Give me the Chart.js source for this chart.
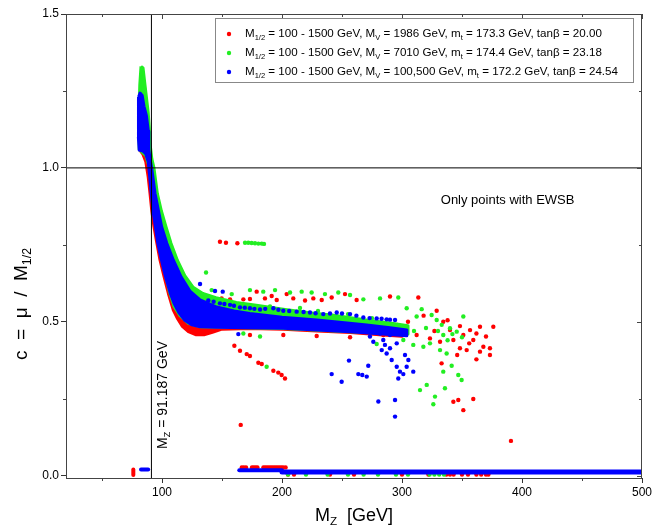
<!DOCTYPE html>
<html>
<head>
<meta charset="utf-8">
<script src="https://cdn.jsdelivr.net/npm/chart.js@4/dist/chart.umd.min.js"></script>
<style>
html, body { margin: 0; padding: 0; background: #fff; }
</style>
</head>
<body>
<canvas id="myChart" width="655" height="529"></canvas>
<script>
const RED = '#ff0000', GREEN = '#22ee22', BLUE = '#0000ff';

// axis ticks
const xTicks = [100, 200, 300, 400, 500];
const xMinor = [50, 150, 250, 350, 450];
const yTicks = [0, 0.5, 1.0, 1.5];
const yMinor = [0.25, 0.75, 1.25];

// outlines of the dense point clouds (upper edge, then lower edge back)
const redBand = [[81,1.06],[81.5,1.22],[83.5,1.31],[85,1.28],[87,1.2],[89,1.1],[91,1.0],[93.5,0.917],[98.5,0.809],[107,0.701],[120,0.6],[131,0.565],[145,0.54],[173,0.522],[229,0.5],[271,0.485],[300,0.47],
  [300,0.453],[284,0.457],[257,0.465],[229,0.47],[201,0.476],[173,0.478],[150,0.476],[142,0.466],[135,0.458],[128,0.458],[122,0.468],[117,0.485],[113,0.51],[109.4,0.538],[105.3,0.592],[101.5,0.65],[98.3,0.701],[95.5,0.76],[93.3,0.809],[91.5,0.86],[90,0.917],[88.5,0.97],[86.5,1.02],[84,1.045]];
const greenBand = [[82.5,1.33],[84.2,1.325],[85.5,1.28],[87,1.23],[88.5,1.18],[89.4,1.13],[90,1.08],[91.5,1.03],[93.3,1.0],[96.1,0.917],[99.5,0.86],[103.3,0.809],[107.5,0.755],[112.8,0.70],[119,0.65],[126,0.612],[134,0.592],[145,0.578],[162,0.563],[180,0.553],[201,0.541],[225,0.529],[243,0.521],[270,0.506],[290,0.496],[305,0.487],
  [305,0.46],[257,0.468],[201,0.478],[150,0.482],[132,0.484],[122,0.495],[115,0.52],[110,0.55],[106,0.6],[100,0.7],[95,0.81],[91.5,0.917],[89.5,1.0],[86.5,1.04],[81,1.06],[80.5,1.15],[81.5,1.27]];
const blueBand = [[80.5,1.23],[81.7,1.243],[83.5,1.235],[85,1.2],[87,1.17],[88.6,1.12],[89,1.06],[90,1.03],[91.4,1.0],[94.2,0.917],[99.7,0.809],[104,0.755],[109.4,0.701],[116,0.645],[123.3,0.6],[131.7,0.571],[145.6,0.548],[160,0.535],[173.3,0.527],[200,0.515],[228.9,0.506],[250,0.498],[270.6,0.49],[290,0.481],[304,0.473],
  [304,0.455],[284,0.46],[256.7,0.468],[229,0.473],[201,0.479],[170,0.481],[145,0.482],[131.7,0.484],[125,0.49],[119,0.505],[114,0.53],[110,0.56],[107,0.592],[103,0.645],[99.5,0.701],[96.5,0.755],[94.5,0.809],[92.5,0.86],[91,0.917],[89.8,0.97],[88.5,1.02],[86.5,1.045],[84,1.055],[81,1.058],[80.3,1.1],[80.3,1.18]];

// scattered points
const redPts = [[148.3,0.760],[153.3,0.757],[162.8,0.755],
  [149.7,0.576],[156.7,0.573],[167.8,0.573],[173.3,0.574],[178.9,0.598],[185.8,0.576],[191.4,0.584],[195.6,0.571],[203.9,0.590],[209.4,0.576],[219.2,0.569],[226.1,0.576],[233.1,0.571],[241.4,0.579],[252.5,0.590],[262.2,0.571],[290,0.582],[313.6,0.579],
  [328.9,0.536],[334.4,0.500],[348.3,0.486],[365,0.484],[376.1,0.484],[356.7,0.473],[340,0.473],[351.1,0.457],[359.4,0.441],[367.8,0.419],[373.3,0.414],[365,0.403],[373.3,0.392],[353.9,0.408],[348.3,0.414],[342.8,0.441],[331.7,0.435],[323.3,0.446],[312.2,0.457],[301.1,0.462],[284.4,0.457],[256.7,0.450],[228.9,0.454],[201.1,0.457],[173.3,0.457],
  [318,0.52],[338,0.505],[362,0.462],[370,0.452],[356,0.43],[346,0.392],[362,0.378],[327,0.47],[305,0.5],[296,0.49],
  [160.3,0.422],[165,0.406],[170.6,0.395],[173.3,0.389],[180.3,0.367],[183.1,0.363],[192.8,0.341],[196.9,0.335],[199.7,0.327],[202.5,0.316],
  [342.8,0.240],[346.9,0.246],[359.4,0.249],[351.1,0.213],[333,0.365],
  [165.6,0.165],[390.8,0.113]];
const greenPts = [[169.2,0.757],[171.9,0.757],[174.7,0.756],[177.5,0.755],[180.3,0.754],[183.1,0.754],[185,0.753],
  [136.7,0.660],[141.4,0.603],[158.1,0.590],[173.3,0.603],[184.4,0.598],[194.2,0.603],[206.7,0.595],[216.4,0.598],[224.7,0.595],[235.8,0.590],[246.9,0.595],[256.7,0.587],[267.8,0.573],[281.7,0.576],[296.9,0.579],
  [303.9,0.544],[316.4,0.541],[312.2,0.517],[324.7,0.522],[328.9,0.506],[333.1,0.49],[340,0.479],[351.1,0.517],[345.6,0.468],[334.4,0.457],[323.3,0.430],[331.7,0.408],[337.2,0.397],[341.4,0.357],[334.4,0.338],[346.9,0.327],[349.7,0.311],
  [320.6,0.295],[315,0.278],[327.5,0.257],[326.1,0.232],[335.8,0.284],[187.2,0.354],[278.9,0.428],[301.1,0.441],[309.4,0.425],[317.8,0.419],[284.4,0.49],[265,0.506],[245.6,0.517],[181.7,0.452],[167.8,0.462],
  [150,0.57],[160,0.56],[190,0.55],[215,0.545],[230,0.535],[255,0.525],[275,0.512],[320,0.48],[330,0.47],[342,0.46],[338,0.44],[350,0.45],[310,0.47]];
const bluePts = [[131.7,0.623],[144.2,0.600],[150.6,0.598],
  [138.6,0.569],[143,0.565],[148.3,0.560],[152,0.558],[156.7,0.555],[160,0.552],[165,0.547],[169,0.546],[173.3,0.544],[177,0.542],[181.7,0.540],[186,0.542],[192.8,0.544],[197,0.539],[201.1,0.536],[206,0.535],[212.2,0.533],[218,0.532],[223.3,0.530],[228,0.528],[234.4,0.525],[240,0.527],[245.6,0.530],[250,0.527],[256.7,0.525],[262,0.52],[267.8,0.514],[273,0.512],[278.9,0.511],[283,0.51],[287.2,0.508],[290,0.507],[294.2,0.506],
  [281.7,0.462],[284.4,0.441],[285.8,0.425],[283.1,0.408],[287.2,0.397],[290,0.414],[295.6,0.430],[291.4,0.376],[295.6,0.354],[298.3,0.338],[302.5,0.392],[305.3,0.376],[309.4,0.338],[303.9,0.354],[301.1,0.330],[296.9,0.316],[273.3,0.452],[276.1,0.435],[290,0.457],
  [241.4,0.330],[249.7,0.305],[263.6,0.330],[266.9,0.327],[270.6,0.322],[255.8,0.374],[271.9,0.357],[280.3,0.241],[294.2,0.246],[294.2,0.192],[163.6,0.460]];

// points lying on c ~ 0
const redFloor = [[166.5,0.027],[168.2,0.027],[170,0.027],[175,0.027],[176.5,0.027],[178,0.027],[179.5,0.027],[184.5,0.027],[186,0.027],[187.5,0.027],[189,0.027],[190.5,0.027],[192,0.027],[193.5,0.027],[195,0.027],[196.5,0.027],[198,0.027],[199.5,0.027],[201,0.027],[203,0.027]];
const redUnder = [[205,0.004],[210,0.004],[240,0.004],[260,0.004],[300,0.004],[322,0.004],[337,0.004],[340,0.004],[343,0.004],[350,0.004],[355,0.004],[362,0.004],[366,0.004],[370,0.004],[372,0.004]];
const greenUnder = [[205,0.004],[220,0.004],[238,0.004],[255,0.004],[268,0.004],[280,0.004],[295,0.004],[305,0.004],[323,0.004],[327,0.004],[331,0.004],[335,0.004]];
const blueFloorA = [[164.4,0.018],[200,0.018]];
const blueFloorB = [[200,0.012],[500,0.012]];
const blueLeft = [[82.5,0.02],[88.5,0.02]];
const redLeft = [[76.1,0.002],[76.1,0.02]];

// reference lines
const mzLine = [[91.187,-0.0075],[91.187,1.5]];
const oneLine = [[20,1],[500,1]];

const legendRows = [
  {color: RED, parts: [['M'],['1/2',1],[' = 100 - 1500 GeV, M'],['V',1],[' = 1986 GeV, m'],['t',1],[' = 173.3 GeV, tan\u03b2 = 20.00']]},
  {color: GREEN, parts: [['M'],['1/2',1],[' = 100 - 1500 GeV, M'],['V',1],[' = 7010 GeV, m'],['t',1],[' = 174.4 GeV, tan\u03b2 = 23.18']]},
  {color: BLUE, parts: [['M'],['1/2',1],[' = 100 - 1500 GeV, M'],['V',1],[' = 100,500 GeV, m'],['t',1],[' = 172.2 GeV, tan\u03b2 = 24.54']]}
];

const FONT = '"Liberation Sans", Arial, sans-serif';
const xy = arr => arr.map(p => ({x: p[0], y: p[1]}));
const closed = arr => xy(arr.concat([arr[0]]));

function band(data, color) {
  return {data: closed(data), showLine: true, fill: 'shape', backgroundColor: color, borderColor: color,
    borderWidth: 3, borderJoinStyle: 'round', pointRadius: 0, tension: 0};
}
function dots(data, color) {
  return {data: xy(data), backgroundColor: color, borderWidth: 0, pointRadius: 2.2, showLine: false};
}
function bar(data, color, w) {
  return {data: xy(data), showLine: true, borderColor: color, borderWidth: w, borderCapStyle: 'round', pointRadius: 0, fill: false};
}
function rule(data) {
  return {data: xy(data), showLine: true, borderColor: '#000', borderWidth: 1, pointRadius: 0, fill: false};
}

// bottom to top, reversed so that the last one is drawn on top
const layers = [
  band(redBand, RED), dots(redPts, RED), dots(redFloor, RED), dots(redUnder, RED), bar(redLeft, RED, 4),
  band(greenBand, GREEN), dots(greenPts, GREEN), dots(greenUnder, GREEN),
  band(blueBand, BLUE), dots(bluePts, BLUE), bar(blueFloorA, BLUE, 4), bar(blueFloorB, BLUE, 5), bar(blueLeft, BLUE, 4),
  rule(mzLine), rule(oneLine)
].reverse();

function richWidth(ctx, parts, size) {
  let w = 0;
  for (const p of parts) {
    ctx.font = (p[1] ? size * 0.65 : size) + 'px ' + FONT;
    w += ctx.measureText(p[0]).width;
  }
  return w;
}
function drawRich(ctx, parts, x, y, size) {
  ctx.textBaseline = 'middle';
  ctx.textAlign = 'left';
  for (const p of parts) {
    ctx.font = (p[1] ? size * 0.65 : size) + 'px ' + FONT;
    ctx.fillText(p[0], x, p[1] ? y + size * 0.32 : y);
    x += ctx.measureText(p[0]).width;
  }
}

const decor = {
  id: 'decor',
  afterDraw(chart) {
    const {ctx, chartArea: a} = chart;
    const sx = chart.scales.x, sy = chart.scales.y;
    ctx.save();
    ctx.strokeStyle = '#444';
    ctx.lineWidth = 1;
    ctx.strokeRect(a.left + 0.5, a.top + 0.5, a.right - a.left - 1, a.bottom - a.top);
    ctx.beginPath();
    // top (inward) and bottom minor ticks
    xTicks.forEach(v => { const p = Math.round(sx.getPixelForValue(v)) + 0.5; ctx.moveTo(p, a.top); ctx.lineTo(p, a.top + 5); });
    xMinor.forEach(v => { const p = Math.round(sx.getPixelForValue(v)) + 0.5; ctx.moveTo(p, a.top); ctx.lineTo(p, a.top + 3); ctx.moveTo(p, a.bottom); ctx.lineTo(p, a.bottom + 3); });
    // right (inward) and left minor ticks
    yTicks.forEach(v => { const p = Math.round(sy.getPixelForValue(v)) + 0.5; ctx.moveTo(a.right, p); ctx.lineTo(a.right - 5, p); });
    yMinor.forEach(v => { const p = Math.round(sy.getPixelForValue(v)) + 0.5; ctx.moveTo(a.right, p); ctx.lineTo(a.right - 3, p); ctx.moveTo(a.left, p); ctx.lineTo(a.left - 3, p); });
    ctx.stroke();

    ctx.fillStyle = '#000';
    // axis titles
    const xt = [['M'], ['Z', 1], ['  [GeV]']];
    drawRich(ctx, xt, (a.left + a.right) / 2 - richWidth(ctx, xt, 18) / 2, 516, 18);
    const yt = [['c  =  \u03bc  /  M'], ['1/2', 1]];
    ctx.save();
    ctx.translate(22, 304);
    ctx.rotate(-Math.PI / 2);
    drawRich(ctx, yt, -richWidth(ctx, yt, 19) / 2, 0, 19);
    ctx.restore();

    // vertical label along the M_Z line
    ctx.save();
    ctx.translate(sx.getPixelForValue(100.8), sy.getPixelForValue(0.087));
    ctx.rotate(-Math.PI / 2);
    drawRich(ctx, [['M'], ['Z', 1], [' = 91.187 GeV']], 0, 0, 14);
    ctx.restore();

    // note
    ctx.font = '13px ' + FONT;
    ctx.textAlign = 'center';
    ctx.textBaseline = 'middle';
    ctx.fillText('Only points with EWSB', sx.getPixelForValue(388), sy.getPixelForValue(0.895));

    // legend box
    ctx.fillStyle = '#fff';
    ctx.fillRect(215, 18, 418, 64);
    ctx.strokeStyle = '#888';
    ctx.strokeRect(215.5, 18.5, 418, 64);
    legendRows.forEach((r, i) => {
      const y = 34 + i * 19;
      ctx.fillStyle = r.color;
      ctx.beginPath();
      ctx.arc(229, y, 2.2, 0, Math.PI * 2);
      ctx.fill();
      ctx.fillStyle = '#000';
      drawRich(ctx, r.parts, 245, y, 11.6);
    });
    ctx.restore();
  }
};

const ctx = document.getElementById('myChart').getContext('2d');
const config = {
  type: 'scatter',
  data: {datasets: layers},
  options: {
    responsive: false,
    animation: false,
    devicePixelRatio: 1,
    events: [],
    layout: {padding: {top: 14, right: 13, left: 0, bottom: 0}},
    plugins: {legend: {display: false}, tooltip: {enabled: false}},
    scales: {
      x: {
        type: 'linear', min: 20, max: 500,
        afterFit: s => { s.height = 51; },
        afterBuildTicks: s => { s.ticks = xTicks.map(v => ({value: v})); },
        border: {display: false},
        grid: {drawOnChartArea: false, drawTicks: true, tickLength: 5, color: '#333'},
        ticks: {color: '#000', padding: 2, maxRotation: 0, autoSkip: false, font: {family: FONT, size: 12}}
      },
      y: {
        type: 'linear', min: -0.0075, max: 1.5,
        afterFit: s => { s.width = 66; },
        afterBuildTicks: s => { s.ticks = yTicks.map(v => ({value: v})); },
        border: {display: false},
        grid: {drawOnChartArea: false, drawTicks: true, tickLength: 5, color: '#333'},
        ticks: {color: '#000', padding: 2, autoSkip: false, font: {family: FONT, size: 12},
          callback: v => v.toFixed(1)}
      }
    }
  },
  plugins: [decor]
};
const myChart = new Chart(ctx, config);
</script>
</body>
</html>
